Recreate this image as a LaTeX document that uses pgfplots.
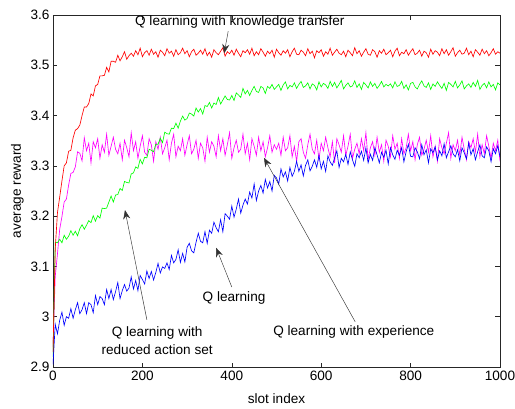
\documentclass[border=0pt]{standalone}
\usepackage{fontspec}
\setmainfont{Liberation Sans}
\usepackage{pgfplots}
\pgfplotsset{compat=1.18}
\usepackage{pgfplotstable}
\usetikzlibrary{arrows.meta}
\definecolor{cR}{rgb}{1,0,0}
\definecolor{cG}{rgb}{0,1,0}
\definecolor{cM}{rgb}{1,0,1}
\definecolor{cB}{rgb}{0,0,1}

\pgfplotstableread{
x r g m b
0 2.930 2.920 2.940 2.905
5 3.135 3.148 3.080 2.985
10 3.207 3.147 3.125 2.966
15 3.238 3.154 3.174 2.993
20 3.270 3.147 3.199 3.009
25 3.300 3.162 3.228 2.983
30 3.306 3.154 3.234 3.000
35 3.329 3.160 3.262 2.997
40 3.331 3.171 3.285 3.016
45 3.356 3.162 3.287 2.997
50 3.371 3.170 3.298 3.014
55 3.374 3.161 3.328 3.028
60 3.381 3.175 3.325 3.006
65 3.400 3.183 3.310 3.014
70 3.417 3.174 3.356 3.028
75 3.417 3.182 3.330 3.006
80 3.424 3.191 3.345 3.028
85 3.443 3.187 3.306 3.024
90 3.439 3.201 3.348 3.008
95 3.459 3.190 3.336 3.042
100 3.462 3.201 3.354 3.024
105 3.479 3.196 3.315 3.040
110 3.479 3.216 3.342 3.036
115 3.480 3.215 3.327 3.024
120 3.496 3.216 3.363 3.054
125 3.487 3.228 3.321 3.036
130 3.508 3.240 3.339 3.054
135 3.508 3.228 3.357 3.034
140 3.506 3.242 3.333 3.050
145 3.520 3.243 3.324 3.068
150 3.509 3.255 3.345 3.036
155 3.517 3.251 3.312 3.052
160 3.527 3.269 3.351 3.064
165 3.512 3.267 3.336 3.051
170 3.519 3.266 3.318 3.057
175 3.524 3.284 3.366 3.079
180 3.518 3.286 3.330 3.055
185 3.529 3.298 3.348 3.072
190 3.521 3.295 3.315 3.052
195 3.534 3.313 3.339 3.082
200 3.517 3.304 3.360 3.074
205 3.525 3.317 3.327 3.065
210 3.529 3.316 3.321 3.091
215 3.520 3.333 3.354 3.076
220 3.532 3.331 3.342 3.090
225 3.522 3.328 3.309 3.073
230 3.527 3.343 3.348 3.088
235 3.516 3.343 3.333 3.106
240 3.530 3.355 3.357 3.087
245 3.526 3.346 3.324 3.099
250 3.519 3.367 3.336 3.096
255 3.533 3.364 3.351 3.107
260 3.524 3.363 3.312 3.094
265 3.528 3.375 3.345 3.122
270 3.518 3.374 3.363 3.107
275 3.531 3.385 3.318 3.114
280 3.521 3.375 3.339 3.133
285 3.525 3.389 3.330 3.108
290 3.534 3.399 3.354 3.126
295 3.523 3.391 3.321 3.109
300 3.529 3.394 3.342 3.138
305 3.517 3.405 3.360 3.146
310 3.527 3.403 3.324 3.131
315 3.532 3.399 3.333 3.127
320 3.520 3.415 3.351 3.148
325 3.524 3.407 3.315 3.166
330 3.530 3.414 3.345 3.150
335 3.522 3.403 3.336 3.147
340 3.533 3.420 3.309 3.169
345 3.519 3.418 3.357 3.146
350 3.526 3.426 3.327 3.172
355 3.516 3.415 3.348 3.166
360 3.531 3.425 3.339 3.188
365 3.525 3.422 3.318 3.177
370 3.521 3.436 3.360 3.169
375 3.528 3.423 3.330 3.193
380 3.535 3.431 3.354 3.169
385 3.518 3.439 3.321 3.205
390 3.527 3.432 3.342 3.200
395 3.523 3.431 3.366 3.194
400 3.530 3.440 3.315 3.220
405 3.520 3.430 3.336 3.198
410 3.532 3.445 3.351 3.214
415 3.524 3.441 3.327 3.234
420 3.517 3.436 3.333 3.206
425 3.529 3.454 3.363 3.222
430 3.525 3.443 3.324 3.234
435 3.531 3.450 3.345 3.224
440 3.522 3.440 3.312 3.248
445 3.534 3.450 3.354 3.236
450 3.519 3.458 3.339 3.264
455 3.527 3.448 3.321 3.231
460 3.521 3.446 3.357 3.250
465 3.533 3.458 3.330 3.261
470 3.526 3.455 3.348 3.246
475 3.518 3.444 3.318 3.273
480 3.528 3.458 3.336 3.256
485 3.523 3.454 3.360 3.269
490 3.530 3.462 3.327 3.250
495 3.516 3.452 3.342 3.281
500 3.532 3.457 3.333 3.276
505 3.525 3.462 3.345 3.264
510 3.520 3.450 3.321 3.294
515 3.529 3.461 3.357 3.278
520 3.524 3.467 3.330 3.288
525 3.531 3.453 3.336 3.270
530 3.517 3.460 3.360 3.297
535 3.527 3.457 3.318 3.279
540 3.534 3.465 3.339 3.289
545 3.522 3.454 3.309 3.309
550 3.521 3.462 3.348 3.289
555 3.530 3.468 3.354 3.302
560 3.526 3.456 3.327 3.280
565 3.519 3.459 3.315 3.301
570 3.533 3.465 3.342 3.312
575 3.523 3.453 3.363 3.290
580 3.528 3.463 3.333 3.299
585 3.515 3.460 3.324 3.312
590 3.529 3.451 3.351 3.297
595 3.525 3.467 3.312 3.321
600 3.531 3.457 3.345 3.294
605 3.518 3.464 3.330 3.309
610 3.527 3.461 3.357 3.289
615 3.522 3.454 3.336 3.320
620 3.534 3.468 3.318 3.308
625 3.520 3.458 3.348 3.301
630 3.526 3.466 3.306 3.316
635 3.532 3.455 3.354 3.330
640 3.524 3.462 3.342 3.297
645 3.521 3.470 3.327 3.315
650 3.528 3.453 3.360 3.308
655 3.517 3.460 3.321 3.323
660 3.530 3.465 3.339 3.303
665 3.525 3.457 3.363 3.328
670 3.519 3.459 3.315 3.312
675 3.535 3.469 3.333 3.299
680 3.523 3.456 3.345 3.324
685 3.529 3.463 3.324 3.316
690 3.518 3.452 3.354 3.329
695 3.526 3.466 3.330 3.311
700 3.533 3.461 3.366 3.336
705 3.522 3.455 3.312 3.306
710 3.520 3.467 3.336 3.323
715 3.531 3.458 3.348 3.311
720 3.527 3.464 3.321 3.336
725 3.516 3.454 3.357 3.322
730 3.529 3.460 3.327 3.306
735 3.524 3.468 3.342 3.327
740 3.532 3.457 3.309 3.317
745 3.521 3.462 3.351 3.331
750 3.525 3.459 3.339 3.304
755 3.530 3.463 3.318 3.336
760 3.517 3.455 3.360 3.322
765 3.528 3.467 3.333 3.313
770 3.534 3.458 3.345 3.331
775 3.519 3.460 3.315 3.321
780 3.526 3.468 3.354 3.336
785 3.523 3.454 3.324 3.308
790 3.531 3.461 3.336 3.328
795 3.520 3.451 3.363 3.343
800 3.527 3.464 3.330 3.319
805 3.533 3.466 3.348 3.318
810 3.521 3.457 3.312 3.336
815 3.524 3.453 3.342 3.328
820 3.530 3.462 3.357 3.314
825 3.518 3.469 3.321 3.342
830 3.528 3.459 3.333 3.322
835 3.525 3.456 3.351 3.332
840 3.516 3.465 3.327 3.306
845 3.532 3.452 3.360 3.334
850 3.522 3.463 3.318 3.326
855 3.529 3.458 3.339 3.338
860 3.526 3.467 3.309 3.312
865 3.519 3.460 3.354 3.330
870 3.533 3.454 3.336 3.320
875 3.523 3.464 3.324 3.344
880 3.531 3.450 3.345 3.316
885 3.520 3.466 3.366 3.328
890 3.527 3.462 3.315 3.340
895 3.535 3.457 3.342 3.324
900 3.518 3.468 3.330 3.318
905 3.525 3.455 3.351 3.332
910 3.530 3.461 3.321 3.310
915 3.522 3.469 3.357 3.336
920 3.524 3.453 3.333 3.326
925 3.534 3.459 3.312 3.314
930 3.521 3.463 3.348 3.346
935 3.528 3.456 3.336 3.322
940 3.517 3.466 3.354 3.334
945 3.531 3.458 3.327 3.312
950 3.526 3.470 3.363 3.328
955 3.520 3.452 3.318 3.342
960 3.532 3.460 3.342 3.320
965 3.523 3.464 3.324 3.316
970 3.529 3.455 3.360 3.338
975 3.519 3.467 3.339 3.330
980 3.525 3.457 3.315 3.308
985 3.533 3.462 3.345 3.334
990 3.522 3.451 3.330 3.324
995 3.527 3.465 3.351 3.340
1000 3.524 3.461 3.309 3.318
}\data

\begin{document}
\begin{tikzpicture}
\path[use as bounding box] (-53pt,-41pt) rectangle (462pt,367pt);
\begin{axis}[
  at={(0pt,0pt)}, anchor=south west,
  scale only axis, width=447pt, height=352pt,
  xmin=0, xmax=1000, ymin=2.9, ymax=3.6,
  xtick={0,200,400,600,800,1000},
  ytick={2.9,3.0,3.1,3.2,3.3,3.4,3.5,3.6},
  tick align=inside, xtick pos=both, ytick pos=both,
  major tick length=4.5pt,
  font=\fontsize{13.6}{16}\selectfont,
  /pgf/number format/assume math mode=true,
  /pgf/number format/1000 sep={},
  axis line style={line width=0.6pt, black!85},
  every tick/.style={black!85, line width=0.5pt},
  xlabel={slot index}, ylabel={average reward},
  every axis x label/.style={at={(axis description cs:0.5,-0.091)}, anchor=center},
  every axis y label/.style={at={(axis description cs:-0.0795,0.5)}, anchor=center, rotate=90},
  every axis plot/.append style={line width=0.65pt, no markers},
]
\addplot[cM] table[x=x, y=m] {\data};
\addplot[cG] table[x=x, y=g] {\data};
\addplot[cB] table[x=x, y=b] {\data};
\addplot[cR] table[x=x, y=r] {\data};

\node at (axis cs:418,3.586) {Q learning with knowledge transfer};
\draw[black!80, line width=0.45pt, -{Stealth[length=9pt,width=7pt]}] (axis cs:392,3.568) -- (axis cs:383,3.524);

\node at (axis cs:673,2.970) {Q learning with experience};
\draw[black!80, line width=0.45pt, -{Stealth[length=9pt,width=7pt]}] (axis cs:676,2.990) -- (axis cs:472,3.316);

\node at (axis cs:405,3.037) {Q learning};
\draw[black!80, line width=0.45pt, -{Stealth[length=9pt,width=7pt]}] (axis cs:400,3.059) -- (axis cs:365,3.137);

\node[align=center, inner sep=1pt] at (axis cs:233,2.953) {Q learning with\\[2pt]reduced action set};
\draw[black!80, line width=0.45pt, -{Stealth[length=9pt,width=7pt]}] (axis cs:210,2.994) -- (axis cs:161,3.212);
\end{axis}
\end{tikzpicture}
\end{document}
